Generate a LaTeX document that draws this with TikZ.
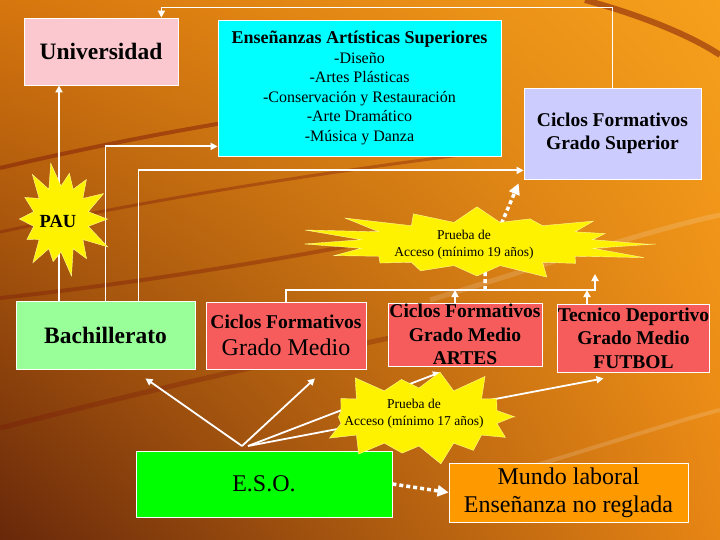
\documentclass[tikz,border=0pt]{standalone}
\usepackage{fontspec}
\setmainfont{Liberation Serif}
\usetikzlibrary{arrows.meta, positioning, shadings}

\definecolor{rosa}{RGB}{250,200,206}
\definecolor{cian}{RGB}{0,255,255}
\definecolor{lila}{RGB}{204,204,255}
\definecolor{verdeclaro}{RGB}{153,255,153}
\definecolor{rojo}{RGB}{246,92,92}
\definecolor{verde}{RGB}{0,255,0}
\definecolor{naranja}{RGB}{255,153,0}
\definecolor{fondoA}{RGB}{214,118,14}
\definecolor{fondoB}{RGB}{246,160,28}
\definecolor{fondoC}{RGB}{104,40,10}
\definecolor{fondoD}{RGB}{232,134,20}
\definecolor{franja}{RGB}{120,20,10}

% estrella: centro, radios interiores, radios exteriores, puntas, semilla
\newcommand\estallido[7]{%
  \pgfmathsetseed{#7}
  \fill[yellow, draw=yellow!40!white, thin, shift={(#1)}] (0:{#4} and {#5})
    \foreach \k [evaluate=\k as \f using 0.75+0.4*rnd] in {0,...,\numexpr#6-1\relax}
      { -- ({\k*360/#6}:{\f*#4} and {\f*#5}) -- ({(\k+0.5)*360/#6}:{#2} and {#3}) } -- cycle;}

\begin{document}
\begin{tikzpicture}[
        x=1pt, y=-1pt,
        caja/.style = {rectangle, draw=white, line width=0.8pt, inner sep=0pt, align=center, text=black},
        flecha/.style = {white, line width=1.8pt, -{Triangle[width=7pt,length=7pt]}},
        puntos/.style = {white, line width=3.5pt, dash pattern=on 4pt off 3pt, -{Triangle[width=11pt,length=11pt]}},
        rotulo/.style = {align=center, inner sep=0pt, text=black},
        grande/.style = {font=\fontsize{23.5}{26}\selectfont\bfseries},
        mediano/.style = {font=\fontsize{19.5}{23.5}\selectfont\bfseries},
        chico/.style = {font=\fontsize{13.5}{17}\selectfont}
        ]

        % fondo
        \useasboundingbox (0,0) rectangle (720,540);
        \shade[upper left=fondoA, upper right=fondoB, lower left=fondoC, lower right=fondoD] (0,0) rectangle (720,540);
        \draw[franja, opacity=0.45, line width=4pt] (0,168) .. controls (120,140) and (250,115) .. (420,95);
        \draw[franja, opacity=0.35, line width=3pt] (0,232) .. controls (150,200) and (300,175) .. (500,150);
        \draw[franja, opacity=0.35, line width=4pt] (0,298) .. controls (120,285) and (250,265) .. (380,240);
        \draw[franja, opacity=0.3, line width=5pt] (0,428) .. controls (150,390) and (300,355) .. (480,320);
        \draw[franja, opacity=0.5, line width=6pt] (585,0) .. controls (640,15) and (690,35) .. (720,55);
        \draw[white, opacity=0.15, line width=5pt] (430,300) .. controls (560,260) and (650,230) .. (720,215);
        \draw[white, opacity=0.15, line width=4pt] (520,470) .. controls (620,440) and (680,420) .. (720,410);

        % cajas
        \node[caja, fill=rosa, minimum width=154pt, minimum height=67pt, grande] (uni) at (101,51.5) {Universidad};
        \node[caja, fill=cian, minimum width=283pt, minimum height=136pt, font=\fontsize{16}{19.5}\selectfont] (arts) at (359.5,88)
            {{\fontsize{18}{19.5}\selectfont\bfseries Enseñanzas Artísticas Superiores}\\-Diseño\\-Artes Plásticas\\-Conservación y Restauración\\-Arte Dramático\\-Música y Danza};
        \node[caja, fill=lila, minimum width=177pt, minimum height=91pt, mediano] (gs) at (612.5,133.5) {Ciclos Formativos\\Grado Superior};
        \node[caja, fill=verdeclaro, minimum width=179pt, minimum height=68pt, grande] (bach) at (105.5,335) {Bachillerato};
        \node[caja, fill=rojo, minimum width=160pt, minimum height=67pt, font=\fontsize{24}{27}\selectfont] (cfgm) at (286,335.5)
            {{\fontsize{19.5}{27}\selectfont\bfseries Ciclos Formativos}\\Grado Medio};
        \node[caja, fill=rojo, minimum width=154pt, minimum height=63pt, mediano] (artes) at (465,334.5) {Ciclos Formativos\\Grado Medio\\ARTES};
        \node[caja, fill=rojo, minimum width=151pt, minimum height=68pt, mediano] (tec) at (633.5,338) {Tecnico Deportivo\\Grado Medio\\FUTBOL};
        \node[caja, fill=verde, minimum width=256pt, minimum height=66pt, font=\fontsize{24}{27}\selectfont] (eso) at (264,484) {E.S.O.};
        \node[caja, fill=naranja, minimum width=239pt, minimum height=59pt, font=\fontsize{24}{28}\selectfont] (mundo) at (568.5,492.5) {Mundo laboral\\Enseñanza no reglada};

        \coordinate (busend) at (595,290);
        \coordinate (esotop) at (242,446);

        % conexiones
        \draw[flecha] (bach.north -| 59,0) -- (uni.south -| 59,0);
        \draw[flecha] (bach.north) |- ([yshift=10pt]arts.south west);
        \draw[flecha] ([xshift=33pt]bach.north) |- ([yshift=9pt]gs.south west);
        \draw[flecha] (gs.north) |- ([xshift=-17pt,yshift=10pt]uni.north east) -- ([xshift=-17pt]uni.north east);
        \draw[flecha] (cfgm.north) |- (busend) -- ++(0,-16);
        \draw[flecha] ([xshift=-10pt]artes.north) -- ([xshift=-10pt]artes.north |- busend);
        \draw[flecha] ([xshift=-46.5pt]tec.north) -- ([xshift=-46.5pt]tec.north |- busend);
        \draw[puntos] ([xshift=-110pt]busend) -- ++(0,-28) -- ([xshift=-5pt,yshift=-4pt]gs.south west);
        \draw[flecha] (esotop) -- ([xshift=40pt,yshift=-9pt]bach.south);
        \draw[flecha] (esotop) -- ([xshift=29pt,yshift=-9pt]cfgm.south);
        \draw[flecha] ([xshift=6pt]esotop) -- ([xshift=-25pt,yshift=-6pt]artes.south);
        \draw[flecha] ([xshift=6pt]esotop) -- ([xshift=-30pt,yshift=-6pt]tec.south);
        \draw[puntos] (eso.east) -- (mundo.west);

        % estrellas
        \coordinate (cpau) at (61,219);
        \coordinate (c19) at (477,244);
        \coordinate (c17) at (419,417);
        \estallido{cpau}{28}{33}{46}{57}{14}{11}
        \estallido{c19}{118}{22}{168}{33}{16}{4}
        \estallido{c17}{80}{29}{96}{47}{14}{8}
        \node[rotulo, font=\fontsize{18.5}{20}\selectfont\bfseries] (pau) at (58,221) {PAU};
        \node[rotulo, chico] (p19) at (464,245) {Prueba de\\Acceso (mínimo 19 años)};
        \node[rotulo, chico] (p17) at (414,414) {Prueba de\\Acceso (mínimo 17 años)};

      \end{tikzpicture}
\end{document}
